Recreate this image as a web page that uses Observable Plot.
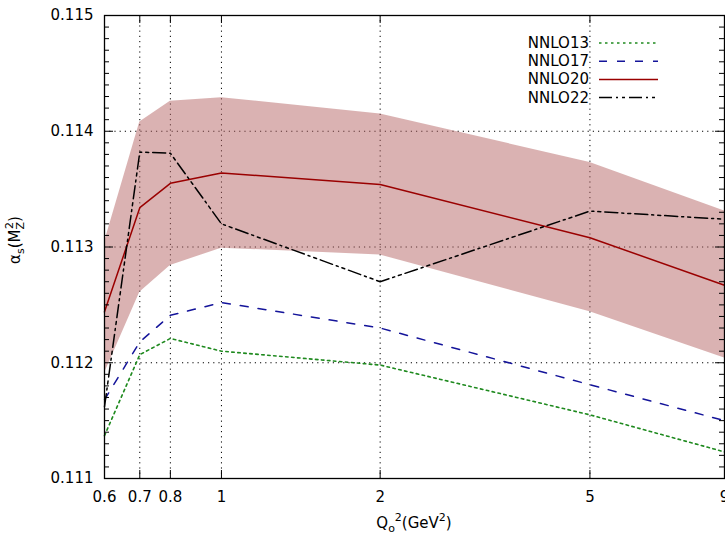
<!DOCTYPE html>
<html>
<head>
<meta charset="utf-8">
<script src="https://cdn.jsdelivr.net/npm/d3@7"></script>
<script src="https://cdn.jsdelivr.net/npm/@observablehq/plot@0.6"></script>
<style>
  html, body { margin: 0; padding: 0; background: white; }
  #chart { position: relative; width: 725px; height: 536px; }
</style>
</head>
<body>
<div id="chart"></div>
<script>
// ---- data ----
const q2 = [0.6, 0.7, 0.8, 1, 2, 5, 9];
const nnlo13 = [0.11137, 0.11207, 0.11221, 0.11210, 0.11198, 0.11155, 0.11123];
const nnlo17 = [0.11168, 0.11218, 0.11241, 0.11252, 0.11230, 0.11181, 0.11150];
const nnlo20 = [0.11244, 0.11334, 0.11355, 0.11364, 0.11354, 0.11308, 0.11267];
const nnlo22 = [0.11162, 0.11382, 0.11381, 0.11320, 0.11270, 0.11331, 0.11324];
const nnlo20Hi = [0.11304, 0.11408, 0.11426, 0.11429, 0.11415, 0.11373, 0.11331];
const nnlo20Lo = [0.11191, 0.11261, 0.11284, 0.11299, 0.11293, 0.11244, 0.11204];

const seriesNames = ["NNLO13", "NNLO17", "NNLO20", "NNLO22"];
const seriesValues = [nnlo13, nnlo17, nnlo20, nnlo22];

const xTickValues = [0.6, 0.7, 0.8, 1, 2, 5, 9];
const xGridValues = [0.7, 0.8, 1, 2, 5];
const yMajorTicks = [0.111, 0.112, 0.113, 0.114, 0.115];
const yGridValues = [0.112, 0.113, 0.114];
const yMinorTicks = d3.range(1110, 1151).filter(d => d % 10 !== 0).map(d => d / 10000);

// ---- styles ----
const styles = {
  NNLO13: {stroke: "#1f8a1f", dash: "2.5,3.5", width: 1.6},
  NNLO17: {stroke: "#14149a", dash: "8,10", width: 1.5},
  NNLO20: {stroke: "#9a0000", dash: null, width: 1.5},
  NNLO22: {stroke: "#000000", dash: "13,4,2,4,3,4", width: 1.5}
};

const W = 725, H = 536, mL = 104, mR = 1, mT = 15, mB = 58;
const plotW = W - mL - mR, plotH = H - mT - mB;

const band = q2.map((x, i) => ({x, lo: nnlo20Lo[i], hi: nnlo20Hi[i]}));
const rows = seriesNames.flatMap((name, s) => q2.map((x, i) => ({name, x, y: seriesValues[s][i]})));

const lineMarks = seriesNames.map(name => Plot.line(rows.filter(r => r.name === name), {
  x: "x", y: "y",
  stroke: styles[name].stroke,
  strokeWidth: styles[name].width,
  strokeDasharray: styles[name].dash
}));

const chart = Plot.plot({
  width: W, height: H,
  marginLeft: mL, marginRight: mR, marginTop: mT, marginBottom: mB,
  style: {fontFamily: "DejaVu Sans", fontSize: "15px", background: "white", color: "black"},
  x: {type: "log", domain: [0.6, 9], axis: null},
  y: {domain: [0.111, 0.115], axis: null},
  marks: [
    Plot.ruleX(xGridValues, {x: d => d, stroke: "black", strokeWidth: 1, strokeDasharray: "1.2,4"}),
    Plot.ruleY(yGridValues, {y: d => d, stroke: "black", strokeWidth: 1, strokeDasharray: "1.2,4"}),
    Plot.areaY(band, {x: "x", y1: "lo", y2: "hi", fill: "rgb(181,101,101)", fillOpacity: 0.5}),
    ...lineMarks,
    // inward ticks (bottom / top mirror)
    Plot.tickX(xTickValues, {x: d => d, stroke: "black", insetTop: plotH - 8}),
    Plot.tickX(xTickValues, {x: d => d, stroke: "black", insetBottom: plotH - 8}),
    // inward ticks (left / right mirror)
    Plot.tickY(yMajorTicks, {y: d => d, stroke: "black", insetRight: plotW - 9}),
    Plot.tickY(yMajorTicks, {y: d => d, stroke: "black", insetLeft: plotW - 9}),
    Plot.tickY(yMinorTicks, {y: d => d, stroke: "black", insetRight: plotW - 5}),
    Plot.tickY(yMinorTicks, {y: d => d, stroke: "black", insetLeft: plotW - 5}),
    // tick labels
    Plot.text(xTickValues, {x: d => d, frameAnchor: "bottom", lineAnchor: "top", dy: 13,
      text: d => String(d), fontSize: 15, fill: "black"}),
    Plot.text(yMajorTicks, {y: d => d, frameAnchor: "left", textAnchor: "end", dx: -11,
      text: d => d3.format(".3f")(d), fontSize: 15, fill: "black"}),
    Plot.frame({stroke: "black", strokeWidth: 1.3})
  ]
});

document.getElementById("chart").appendChild(chart);

// ---- axis titles and legend ----
const svg = d3.select(chart);

const yl = svg.append("text")
  .attr("transform", `translate(20,240) rotate(-90)`)
  .attr("text-anchor", "middle")
  .attr("font-family", "DejaVu Sans")
  .attr("font-size", 15)
  .attr("fill", "black");
yl.append("tspan").text("α");
yl.append("tspan").attr("font-size", 11).attr("dy", 4).text("s");
yl.append("tspan").attr("dy", -4).text("(M");
yl.append("tspan").attr("font-size", 11).attr("dy", 4).text("Z");
yl.append("tspan").attr("font-size", 11).attr("dx", -7).attr("dy", -11).text("2");
yl.append("tspan").attr("dy", 7).text(")");

const xl = svg.append("text")
  .attr("x", mL + plotW / 2)
  .attr("y", 528)
  .attr("text-anchor", "middle")
  .attr("font-family", "DejaVu Sans")
  .attr("font-size", 15)
  .attr("fill", "black");
xl.append("tspan").text("Q");
xl.append("tspan").attr("font-size", 11).attr("dy", 4).text("o");
xl.append("tspan").attr("font-size", 11).attr("dy", -11).text("2");
xl.append("tspan").attr("dy", 7).text("(GeV");
xl.append("tspan").attr("font-size", 11).attr("dy", -7).text("2");
xl.append("tspan").attr("dy", 7).text(")");

const leg = svg.append("g");
seriesNames.forEach((name, i) => {
  const yy = 43 + i * 18.2;
  leg.append("text")
    .attr("x", 589).attr("y", yy)
    .attr("text-anchor", "end")
    .attr("dominant-baseline", "central")
    .attr("font-family", "DejaVu Sans")
    .attr("font-size", 15)
    .attr("fill", "black")
    .text(name);
  leg.append("line")
    .attr("x1", 599).attr("x2", 658)
    .attr("y1", yy).attr("y2", yy)
    .attr("stroke", styles[name].stroke)
    .attr("stroke-width", styles[name].width)
    .attr("stroke-dasharray", styles[name].dash);
});
</script>
</body>
</html>
